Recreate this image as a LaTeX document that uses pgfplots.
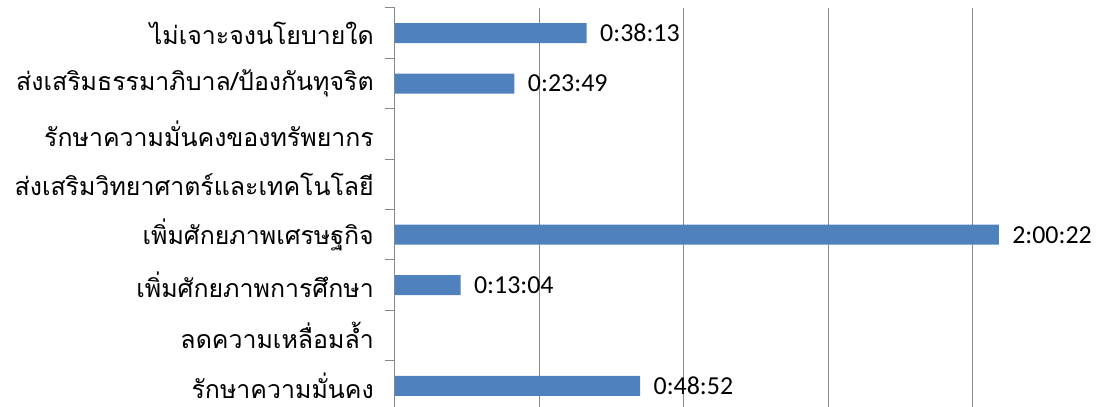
\documentclass[border=0pt]{standalone}
\usepackage{fontspec}
\usepackage{pgfplots}
\pgfplotsset{compat=1.18}
\setmainfont{Carlito}
\newfontfamily\thaifont[Script=Thai]{Loma}
\definecolor{barblue}{HTML}{4F81BD}
\definecolor{gridgray}{HTML}{888888}
\begin{document}
\begin{tikzpicture}
\useasboundingbox (-395bp,0) rectangle (707bp,407bp);
\clip (-395bp,0) rectangle (707bp,407bp);
\begin{axis}[
  at={(0,0)}, anchor=south west,
  scale only axis, width=707bp, height=399bp,
  xmin=0, xmax=8457, ymin=-0.42, ymax=7.5,
  axis lines*=left,
  x axis line style={draw=none},
  y axis line style={draw=gridgray, line width=1bp},
  xtick={0,1728,3456,5184,6912},
  xticklabels={},
  xtick style={draw=none},
  xmajorgrids,
  major grid style={draw=gridgray, line width=1bp},
  ytick={0,...,7},
  yticklabels={รักษาความมั่นคง,ลดความเหลื่อมล้ำ,เพิ่มศักยภาพการศึกษา,เพิ่มศักยภาพเศรษฐกิจ,ส่งเสริมวิทยาศาตร์และเทคโนโลยี\ ,รักษาความมั่นคงของทรัพยากร,ส่งเสริมธรรมาภิบาล/ป้องกันทุจริต,ไม่เจาะจงนโยบายใด},
  major tick length=0pt,
  minor ytick={-0.5,0.5,...,7.5},
  minor tick length=10bp,
  tick align=outside,
  minor tick style={draw=gridgray, line width=1bp},
  yticklabel style={font=\thaifont\fontsize{25}{25}\selectfont, text=black, inner sep=0pt, xshift=-21bp},
  xbar, bar width=20bp,
  nodes near coords,
  point meta=explicit symbolic,
  every node near coord/.append style={font=\fontsize{26}{26}\selectfont, anchor=west, xshift=10bp, text=black},
]
\addplot[fill=barblue, draw=none] coordinates {
  (2932,0) [0:48:52]
  (784,2) [0:13:04]
  (7222,3) [2:00:22]
  (1429,6) [0:23:49]
  (2293,7) [0:38:13]
};
\end{axis}
\end{tikzpicture}
\end{document}
